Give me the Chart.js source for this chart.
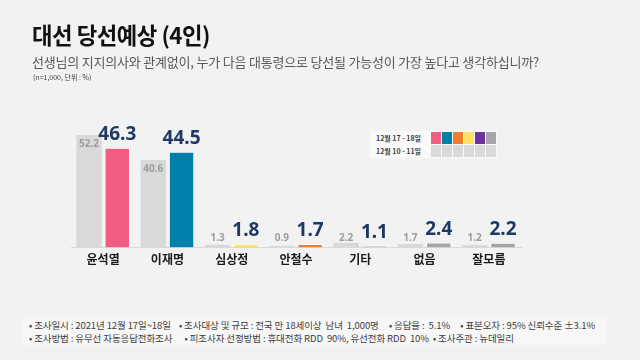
<!DOCTYPE html>
<html><head><meta charset="utf-8">
<script src="https://cdn.jsdelivr.net/npm/chart.js@4/dist/chart.umd.min.js"></script>
<style>
html,body{margin:0;padding:0;background:#f2f2f2;}
body{width:640px;height:360px;position:relative;overflow:hidden;font-family:"Noto Sans CJK KR","Noto Sans",sans-serif;}
#wrap{position:absolute;left:0;top:0;width:640px;height:360px;}
.t{position:absolute;white-space:nowrap;}
#title{left:32px;top:17px;font-size:23px;font-weight:bold;color:#111;transform-origin:0 0;transform:scaleX(0.97);letter-spacing:-0.5px;}
#sub{left:32px;top:52px;font-size:13px;color:#595959;letter-spacing:-0.2px;}
#note{left:33px;top:72px;font-size:7px;color:#404040;}
#legend{position:absolute;left:370px;top:131px;background:#f9f9f9;border-collapse:separate;border-spacing:1px;font-size:7px;font-weight:bold;color:#404040;}
#legend td{height:12px;padding:0;}
#legend td.lab{width:54px;padding-left:5px;}
#legend td.sw{width:10px;}
#foot{position:absolute;left:22px;top:317px;width:584px;height:28px;background:#f7f7f7;}
#foot div{position:absolute;left:7px;font-size:9.5px;color:#404040;white-space:nowrap;letter-spacing:-0.1px;}
</style></head>
<body>
<div id="wrap"><canvas id="c" width="640" height="360"></canvas></div>
<div class="t" id="title">대선 당선예상 (4인)</div>
<div class="t" id="sub">선생님의 지지의사와 관계없이, 누가 다음 대통령으로 당선될 가능성이 가장 높다고 생각하십니까?</div>
<div class="t" id="note">(n=1,000, 단위 : %)</div>
<table id="legend">
<tr><td class="lab">12월 17 - 18일</td><td class="sw" style="background:#f45d82"></td><td class="sw" style="background:#0080a8"></td><td class="sw" style="background:#ef7d31"></td><td class="sw" style="background:#ffe168"></td><td class="sw" style="background:#7030a0"></td><td class="sw" style="background:#a5a5a5"></td></tr>
<tr><td class="lab">12월 10 - 11일</td><td class="sw" style="background:#d9d9d9"></td><td class="sw" style="background:#d9d9d9"></td><td class="sw" style="background:#d9d9d9"></td><td class="sw" style="background:#d9d9d9"></td><td class="sw" style="background:#d9d9d9"></td><td class="sw" style="background:#d9d9d9"></td></tr>
</table>
<div id="foot">
<div style="top:1px">• 조사일시 : 2021년 12월 17일~18일 &nbsp;&nbsp; • 조사대상 및 규모 : 전국 만 18세이상 &nbsp;남녀 &nbsp;1,000명 &nbsp;&nbsp;&nbsp; • 응답율 : &nbsp;5.1% &nbsp;&nbsp;&nbsp; • 표본오차 : 95% 신뢰수준 ±3.1%</div>
<div style="top:14px">• 조사방법 : 유무선 자동응답전화조사 &nbsp;&nbsp;&nbsp;&nbsp; • 피조사자 선정방법 : 휴대전화 RDD &nbsp;90%, 유선전화 RDD &nbsp;10% &nbsp;• 조사주관 : 뉴데일리</div>
</div>
<script>
const categories = ['윤석열','이재명','심상정','안철수','기타','없음','잘모름'];
const prevValues = [52.2, 40.6, 1.3, 0.9, 2.2, 1.7, 1.2];
const currValues = [46.3, 44.5, 1.8, 1.7, 1.1, 2.4, 2.2];
const currColors = ['#f45d82','#0080a8','#ffe168','#ef7d31','#c9c9c9','#a5a5a5','#a5a5a5'];

const labelPlugin = {
  id:'vals',
  afterDatasetsDraw(chart){
    const ctx = chart.ctx;
    ctx.save();
    ctx.textAlign='center';
    ctx.textBaseline='middle';
    chart.data.datasets.forEach((ds,di)=>{
      const meta = chart.getDatasetMeta(di);
      meta.data.forEach((el,i)=>{
        const v = ds.data[i];
        if(di===0){
          ctx.font='bold 10px "Noto Sans","DejaVu Sans",sans-serif';
          ctx.fillStyle='#9d9d9d';
          const y = Math.min(el.y+9, el.base-9);
          ctx.fillText(v.toFixed(1), el.x, y);
        } else {
          ctx.font='bold 19px "Noto Sans","DejaVu Sans",sans-serif';
          ctx.fillStyle='#1f3864';
          ctx.fillText(v.toFixed(1), el.x, el.y-13);
        }
      });
    });
    ctx.restore();
  }
};

new Chart(document.getElementById('c'),{
  type:'bar',
  data:{
    labels:categories,
    datasets:[
      {label:'12월 10 - 11일', data:prevValues, backgroundColor:'#d9d9d9', borderWidth:0},
      {label:'12월 17 - 18일', data:currValues, backgroundColor:currColors, borderColor:'#ffffff', borderWidth:1}
    ]
  },
  options:{
    responsive:false,
    animation:false,
    layout:{padding:{left:71,right:119,top:129,bottom:88}},
    plugins:{legend:{display:false},tooltip:{enabled:false}},
    datasets:{bar:{categoryPercentage:0.88,barPercentage:0.9}},
    scales:{
      x:{
        grid:{display:false,drawTicks:false},
        border:{display:true,color:'#d9d9d9',width:1},
        ticks:{color:'#1a1a1a',font:{family:'"Noto Sans CJK KR"',size:12,weight:'bold'},padding:5}
      },
      y:{display:false,min:0,max:55}
    }
  },
  plugins:[labelPlugin]
});
</script>
</body></html>
